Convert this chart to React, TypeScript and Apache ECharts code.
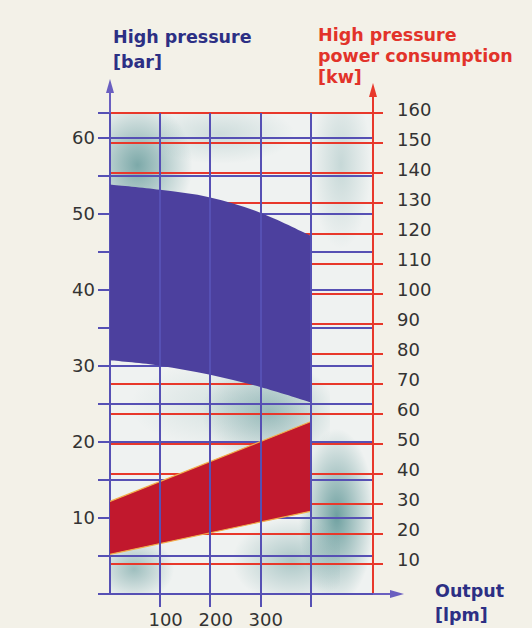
import React, { useEffect, useRef } from "react";
import * as echarts from "echarts";

// ---- data ----
const flowLpm = [0, 100, 200, 300, 400];
const pressureMax = [53.8, 53.1, 52.1, 50.1, 47.1];
const pressureMin = [30.7, 30.0, 28.8, 27.2, 25.2];
const powerFlow = [0, 400];
const powerMax = [30.8, 57.3];
const powerMin = [13.2, 27.5];
const gridFlowLines = [100, 200, 300, 400];
const xTickLabels = [100, 200, 300];

// ---- layout ----
const W = 532;
const H = 628;
const GL = 110;
const GT = 113;
const GR = 373;
const GB = 595;

const BLUE = "#5650b4";
const RED = "#e8382b";
const NAVY = "#2c2f84";
const TITLE_RED = "#e2332a";
const LABEL = "#333333";
const TICK_FONT = '"DejaVu Sans", Verdana, sans-serif';

type P = number[];

// smooth path through screen points (Catmull-Rom -> cubic Bezier)
function curve(pts: P[], start: boolean): string {
  let d = start ? `M${pts[0][0]},${pts[0][1]}` : `L${pts[0][0]},${pts[0][1]}`;
  for (let i = 0; i < pts.length - 1; i++) {
    const p0 = pts[Math.max(0, i - 1)];
    const p1 = pts[i];
    const p2 = pts[i + 1];
    const p3 = pts[Math.min(pts.length - 1, i + 2)];
    const c1 = [p1[0] + (p2[0] - p0[0]) / 6, p1[1] + (p2[1] - p0[1]) / 6];
    const c2 = [p2[0] - (p3[0] - p1[0]) / 6, p2[1] - (p3[1] - p1[1]) / 6];
    d += ` C${c1[0]},${c1[1]} ${c2[0]},${c2[1]} ${p2[0]},${p2[1]}`;
  }
  return d;
}

function patch(x: number, y: number, w: number, h: number, a: number, cx = 0.5, cy = 0.5, r = 0.5) {
  return {
    type: "rect",
    z: 0,
    silent: true,
    shape: { x, y, width: w, height: h },
    style: {
      fill: new echarts.graphic.RadialGradient(cx, cy, r, [
        { offset: 0, color: `rgba(104,156,156,${a})` },
        { offset: 1, color: "rgba(104,156,156,0)" },
      ]),
    },
  };
}

export default function App() {
  const ref = useRef<HTMLDivElement>(null);
  useEffect(() => {
    if (!ref.current) return;
    const chart = echarts.init(ref.current, undefined, { renderer: "svg" });
    const title = (text: string, x: number, y: number, fill: string, lh: number) => ({
      type: "text",
      z: 5,
      silent: true,
      style: {
        text,
        x,
        y,
        fill,
        fontFamily: '"DejaVu Sans", sans-serif',
        fontWeight: "bold",
        fontSize: 17.5,
        lineHeight: lh,
        verticalAlign: "top",
      },
    });
    chart.setOption({
      animation: false,
      backgroundColor: "#f3f1e8",
      grid: { left: GL, top: GT, width: GR - GL, height: GB - GT, containLabel: false },
      xAxis: {
        type: "value",
        z: 1,
        min: 0,
        max: 525,
        interval: 100,
        axisLine: { show: true, lineStyle: { color: BLUE, width: 2 } },
        axisTick: {
          show: true,
          length: 13,
          customValues: gridFlowLines,
          lineStyle: { color: BLUE, width: 2 },
        },
        axisLabel: {
          customValues: xTickLabels,
          color: LABEL,
          fontSize: 18,
          fontFamily: TICK_FONT,
          margin: 16,
          padding: [0, 0, 0, 11],
        },
        splitLine: { show: false },
      },
      yAxis: [
        {
          type: "value",
          z: 1,
          position: "left",
          min: 0,
          max: 63.2,
          interval: 5,
          axisLine: { show: true, lineStyle: { color: BLUE, width: 2 } },
          axisTick: { show: true, length: 12, lineStyle: { color: BLUE, width: 2 } },
          axisLabel: {
            color: LABEL,
            fontSize: 18,
            fontFamily: TICK_FONT,
            margin: 15,
            formatter: (v: number) => (v > 0 && v <= 60 && v % 10 === 0 ? String(v) : ""),
          },
          splitLine: { show: true, lineStyle: { color: BLUE, width: 2 } },
        },
        {
          type: "value",
          z: 1,
          position: "right",
          min: 0,
          max: 160,
          interval: 10,
          axisLine: { show: true, lineStyle: { color: RED, width: 2 } },
          axisTick: { show: true, length: 10, lineStyle: { color: RED, width: 2 } },
          axisLabel: {
            margin: 24,
            formatter: (v: number) => (v > 0 ? `{t|${v}}` : ""),
            rich: {
              t: {
                color: LABEL,
                fontSize: 18,
                fontFamily: TICK_FONT,
                padding: [0, 0, 8, 0],
              },
            },
          },
          splitLine: { show: true, lineStyle: { color: RED, width: 2 } },
        },
      ],
      series: [
        {
          type: "line",
          z: 2,
          data: [],
          silent: true,
          markLine: {
            silent: true,
            symbol: ["none", "none"],
            label: { show: false },
            lineStyle: { color: BLUE, width: 2, type: "solid" },
            data: gridFlowLines.map((v) => ({ xAxis: v })),
          },
        },
        {
          name: "High pressure",
          type: "custom",
          z: 3,
          xAxisIndex: 0,
          yAxisIndex: 0,
          silent: true,
          clip: false,
          data: [[flowLpm[0], pressureMin[0]]],
          renderItem: (_p: any, api: any) => {
            const up = flowLpm.map((x, i) => api.coord([x, pressureMax[i]]));
            const lo = flowLpm.map((x, i) => api.coord([x, pressureMin[i]])).reverse();
            const d = curve(up, true) + " " + curve(lo, false) + " Z";
            return {
              type: "path",
              shape: { pathData: d },
              style: { fill: "#4c409e", stroke: "none" },
            };
          },
        },
        {
          name: "High pressure power consumption",
          type: "custom",
          z: 4,
          xAxisIndex: 0,
          yAxisIndex: 1,
          silent: true,
          clip: false,
          data: [[powerFlow[0], powerMin[0]]],
          renderItem: (_p: any, api: any) => {
            const up = powerFlow.map((x, i) => api.coord([x, powerMax[i]]));
            const lo = powerFlow.map((x, i) => api.coord([x, powerMin[i]]));
            return {
              type: "group",
              children: [
                {
                  type: "polygon",
                  shape: { points: [...up, ...lo.slice().reverse()] },
                  style: { fill: "#c1182d", stroke: "none" },
                },
                {
                  type: "polyline",
                  shape: { points: up },
                  style: { stroke: "#f2ad4a", lineWidth: 1.2, fill: "none" },
                },
                {
                  type: "polyline",
                  shape: { points: lo },
                  style: { stroke: "#f2ad4a", lineWidth: 1.2, fill: "none" },
                },
              ],
            };
          },
        },
      ],
      graphic: [
        {
          type: "rect",
          z: 0,
          silent: true,
          shape: { x: GL, y: GT, width: GR - GL - 2, height: GB - GT },
          style: { fill: "#eff2f1" },
        },
        patch(GL, GT, 110, 130, 0.85, 0.25, 0.4),
        patch(160, GT, 150, 60, 0.25, 0.4, 0.35),
        patch(311, GT, 60, 170, 0.3, 0.5, 0.3),
        patch(GL, 360, 200, 90, 0.2, 0.6, 0.5),
        patch(195, 355, 135, 105, 0.6, 0.55, 0.55),
        patch(295, 420, 76, 175, 0.95, 0.55, 0.55),
        patch(GL, 530, 80, 65, 0.6, 0.3, 0.6),
        patch(220, 510, 120, 85, 0.5, 0.6, 0.6),
        // axis extensions and arrows
        { type: "line", z: 5, silent: true, shape: { x1: GL, y1: GT, x2: GL, y2: 90 }, style: { stroke: "#6a5fc0", lineWidth: 2 } },
        { type: "polygon", z: 5, silent: true, shape: { points: [[GL, 79], [GL - 4, 93], [GL + 4, 93]] }, style: { fill: "#6a5fc0" } },
        { type: "line", z: 5, silent: true, shape: { x1: GR, y1: GT, x2: GR, y2: 94 }, style: { stroke: RED, lineWidth: 2 } },
        { type: "polygon", z: 5, silent: true, shape: { points: [[GR, 83], [GR - 4, 97], [GR + 4, 97]] }, style: { fill: RED } },
        { type: "line", z: 5, silent: true, shape: { x1: GR, y1: GB - 1, x2: 392, y2: GB - 1 }, style: { stroke: "#6a5fc0", lineWidth: 2 } },
        { type: "polygon", z: 5, silent: true, shape: { points: [[404, GB - 1], [390, GB - 5], [390, GB + 3]] }, style: { fill: "#6a5fc0" } },
        // titles
        title("High pressure\n[bar]", 113, 24, NAVY, 25),
        title("High pressure\npower consumption\n[kw]", 318, 24, TITLE_RED, 21),
        title("Output\n[lpm]", 435, 579, NAVY, 24),
      ],
    });
    return () => chart.dispose();
  }, []);
  return (
    <div
      ref={ref}
      style={{ position: "fixed", left: 0, top: 0, width: W, height: H }}
    />
  );
}
